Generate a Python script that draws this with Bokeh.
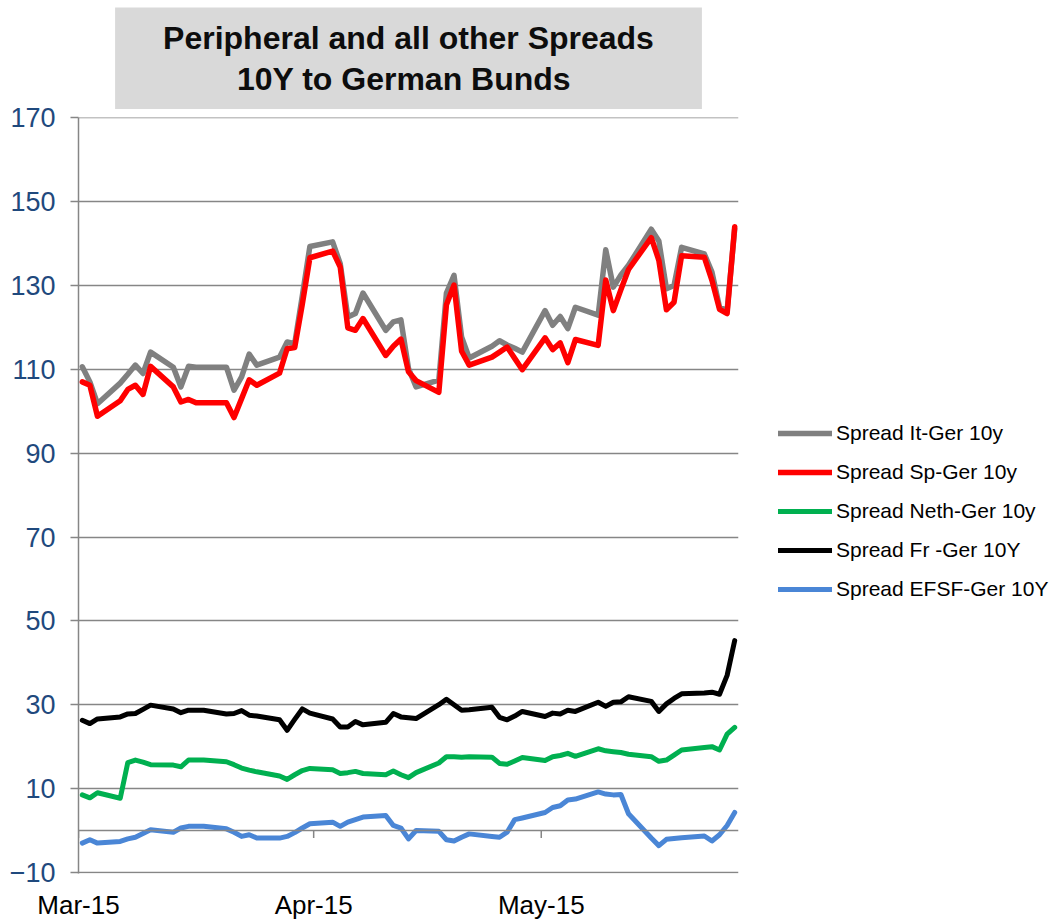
from bokeh.plotting import figure
from bokeh.models import (Legend, LegendItem, Span, FixedTicker,
                          ColumnDataSource, Range1d)
from bokeh.embed import file_html
from bokeh.resources import INLINE

# days since 1 Mar 2015 (business-day observations)
days = [0, 1, 2, 5, 6, 7, 8, 9, 12, 13, 14, 15, 16, 19, 20, 21, 22, 23,
        26, 27, 28, 29, 30, 33, 34, 35, 36, 37, 40, 41, 42, 43, 44,
        47, 48, 49, 50, 51, 54, 55, 56, 57, 58, 61, 62, 63, 64, 65,
        68, 69, 70, 71, 72, 75, 76, 77, 78, 79, 82, 83, 84, 85, 86]

it_ger = [110.6, 107.0, 101.8,
          106.7, 108.8, 111.0, 109.0, 114.1,
          110.5, 105.8, 110.7, 110.5, 110.5,
          110.5, 105.0, 108.2, 113.6, 111.0,
          112.9, 116.5, 116.1, 127.5, 139.3,
          140.4, 135.2, 122.5, 123.3, 128.2,
          119.3, 121.3, 121.8, 110.2, 105.8,
          107.4, 128.2, 132.4, 117.7, 112.7,
          115.5, 116.8, 115.8, 115.0, 114.1,
          124.0, 120.5, 122.6, 119.7, 124.8,
          122.9, 138.5, 129.6, 132.5, 134.8,
          143.4, 140.6, 129.2, 130.0, 139.1,
          137.5, 133.2, 124.8, 124.0, 143.5]

sp_ger = [107.0, 106.2, 98.8,
          102.5, 105.2, 106.2, 104.0, 110.7,
          105.8, 102.2, 102.8, 102.0, 102.0,
          102.0, 98.5, 103.0, 107.5, 106.2,
          109.1, 114.9, 115.2, 125.5, 136.6,
          138.2, 134.4, 119.9, 119.3, 122.1,
          113.3, 115.5, 117.2, 109.4, 107.3,
          104.5, 125.4, 130.1, 114.3, 111.0,
          112.9, 114.1, 115.3, 112.6, 109.9,
          117.5, 114.7, 116.3, 111.6, 117.1,
          115.7, 131.3, 124.0, 129.0, 133.8,
          141.4, 136.0, 124.2, 126.0, 137.1,
          136.7, 131.2, 124.3, 123.3, 144.0]

neth_ger = [8.5, 7.8, 9.0,
            7.7, 16.2, 16.8, 16.3, 15.7,
            15.6, 15.2, 16.8, 16.8, 16.8,
            16.4, 15.7, 14.9, 14.4, 14.0,
            13.0, 12.2, 13.3, 14.3, 14.8,
            14.5, 13.6, 13.8, 14.1, 13.6,
            13.3, 14.2, 13.3, 12.6, 13.8,
            16.1, 17.6, 17.6, 17.5, 17.6,
            17.5, 16.0, 15.8, 16.6, 17.4,
            16.7, 17.6, 17.9, 18.4, 17.7,
            19.5, 19.0, 18.8, 18.6, 18.2,
            17.6, 16.5, 16.8, 18.0, 19.2,
            19.8, 20.0, 19.2, 23.0, 24.6]

fr_ger = [26.3, 25.5, 26.6,
          27.1, 27.8, 27.9, 28.9, 29.9,
          29.0, 28.1, 28.7, 28.7, 28.7,
          27.8, 27.9, 28.6, 27.5, 27.3,
          26.4, 23.9, 26.5, 29.0, 28.0,
          26.6, 24.7, 24.7, 26.0, 25.2,
          25.8, 27.9, 27.1, 26.9, 26.7,
          30.0, 31.3, 30.0, 28.7, 28.8,
          29.4, 27.0, 26.4, 27.3, 28.4,
          27.2, 28.0, 27.8, 28.7, 28.4,
          30.6, 29.6, 30.6, 30.7, 31.9,
          30.8, 28.4, 30.2, 31.5, 32.6,
          32.8, 33.0, 32.5, 37.0, 45.3]

efsf_ger = [-3.0, -2.2, -3.0,
            -2.6, -2.0, -1.6, -0.7, 0.2,
            -0.4, 0.6, 1.0, 1.0, 1.0,
            0.4, -0.4, -1.4, -1.0, -1.8,
            -1.8, -1.4, -0.5, 0.6, 1.6,
            2.0, 1.0, 2.0, 2.6, 3.2,
            3.6, 1.2, 0.6, -2.0, 0.0,
            -0.2, -2.2, -2.5, -1.6, -0.8,
            -1.4, -1.6, -0.4, 2.6, 3.0,
            4.3, 5.5, 5.9, 7.3, 7.5,
            9.2, 8.7, 8.5, 8.6, 4.0,
            -1.8, -3.6, -2.1, -1.9, -1.7,
            -1.3, -2.5, -1.0, 1.2, 4.3]

series_names = ["Spread It-Ger 10y", "Spread Sp-Ger 10y", "Spread Neth-Ger 10y",
                "Spread Fr -Ger 10Y", "Spread EFSF-Ger 10Y"]
series_colors = ["#808080", "#ff0000", "#00b050", "#000000", "#4a86d6"]

month_starts = [0, 31, 61]
month_labels = ["Mar-15", "Apr-15", "May-15"]
y_ticks = [-10, 10, 30, 50, 70, 90, 110, 130, 150, 170]
title_text = "Peripheral and all other Spreads\n10Y  to German Bunds"

FONT = "Liberation Sans"
GRID = "#868686"

src = ColumnDataSource(dict(
    x=[d + 0.5 for d in days],
    it=it_ger, sp=sp_ger, neth=neth_ger, fr=fr_ger, efsf=efsf_ger))

p = figure(frame_width=660, frame_height=756,
           x_range=Range1d(0, 87), y_range=Range1d(-10.25, 170.05),
           output_backend="svg", toolbar_location=None,
           min_border_left=78, min_border_top=117,
           min_border_right=317, min_border_bottom=48,
           background_fill_color="white", border_fill_color="white",
           title=title_text)
p.outline_line_color = None

# title box
p.title.align = "center"
p.title.text_align = "center"
p.title.vertical_align = "top"
p.title.text_font = FONT
p.title.text_font_style = "bold"
p.title.text_font_size = "32px"
p.title.text_line_height = 1.15
p.title.text_color = "#0d0d0d"
p.title.background_fill_color = "#d9d9d9"
p.title.padding = dict(left=48, right=48, top=12, bottom=12)
p.title.standoff = 14

# grid
p.xgrid.visible = False
p.ygrid.ticker = FixedTicker(ticks=y_ticks)
p.ygrid.grid_line_color = GRID
p.ygrid.grid_line_width = 1.5

# y axis
p.yaxis.ticker = FixedTicker(ticks=y_ticks)
p.yaxis.axis_line_color = GRID
p.yaxis.axis_line_width = 1.5
p.yaxis.major_tick_line_color = GRID
p.yaxis.major_tick_line_width = 1.5
p.yaxis.major_tick_out = 8
p.yaxis.major_tick_in = 0
p.yaxis.minor_tick_line_color = None
p.yaxis.major_label_text_font = FONT
p.yaxis.major_label_text_font_size = "27px"
p.yaxis.major_label_text_color = "#1f497d"
p.yaxis.major_label_standoff = 15

# x axis (labels only; axis line drawn at zero)
p.xaxis.ticker = FixedTicker(ticks=month_starts)
p.xaxis.major_label_overrides = {m: l for m, l in zip(month_starts, month_labels)}
p.xaxis.axis_line_color = None
p.xaxis.major_tick_line_color = None
p.xaxis.minor_tick_line_color = None
p.xaxis.major_label_text_font = FONT
p.xaxis.major_label_text_font_size = "26px"
p.xaxis.major_label_text_color = "#000000"
p.xaxis.major_label_standoff = 10

p.add_layout(Span(location=0, dimension="width", line_color=GRID, line_width=1.5))
p.segment(x0=month_starts, y0=[0] * 3, x1=month_starts, y1=[-1.8] * 3,
          line_color=GRID, line_width=1.5)

renderers = []
for key, col in zip(["it", "sp", "neth", "fr", "efsf"], series_colors):
    w = 5.5 if key in ("it", "sp") else 5
    r = p.line("x", key, source=src, line_color=col, line_width=w,
               line_join="round", line_cap="round")
    renderers.append(r)

legend = Legend(items=[LegendItem(label=n, renderers=[r])
                       for n, r in zip(series_names, renderers)],
                location=(40, 272), glyph_width=54, glyph_height=24,
                label_height=24, spacing=15, padding=0, margin=0,
                label_standoff=4, label_text_font=FONT,
                label_text_font_size="21px", label_text_color="#000000",
                border_line_color=None, background_fill_alpha=0)
p.add_layout(legend, "right")

open("out.html", "w").write(file_html(p, INLINE))
